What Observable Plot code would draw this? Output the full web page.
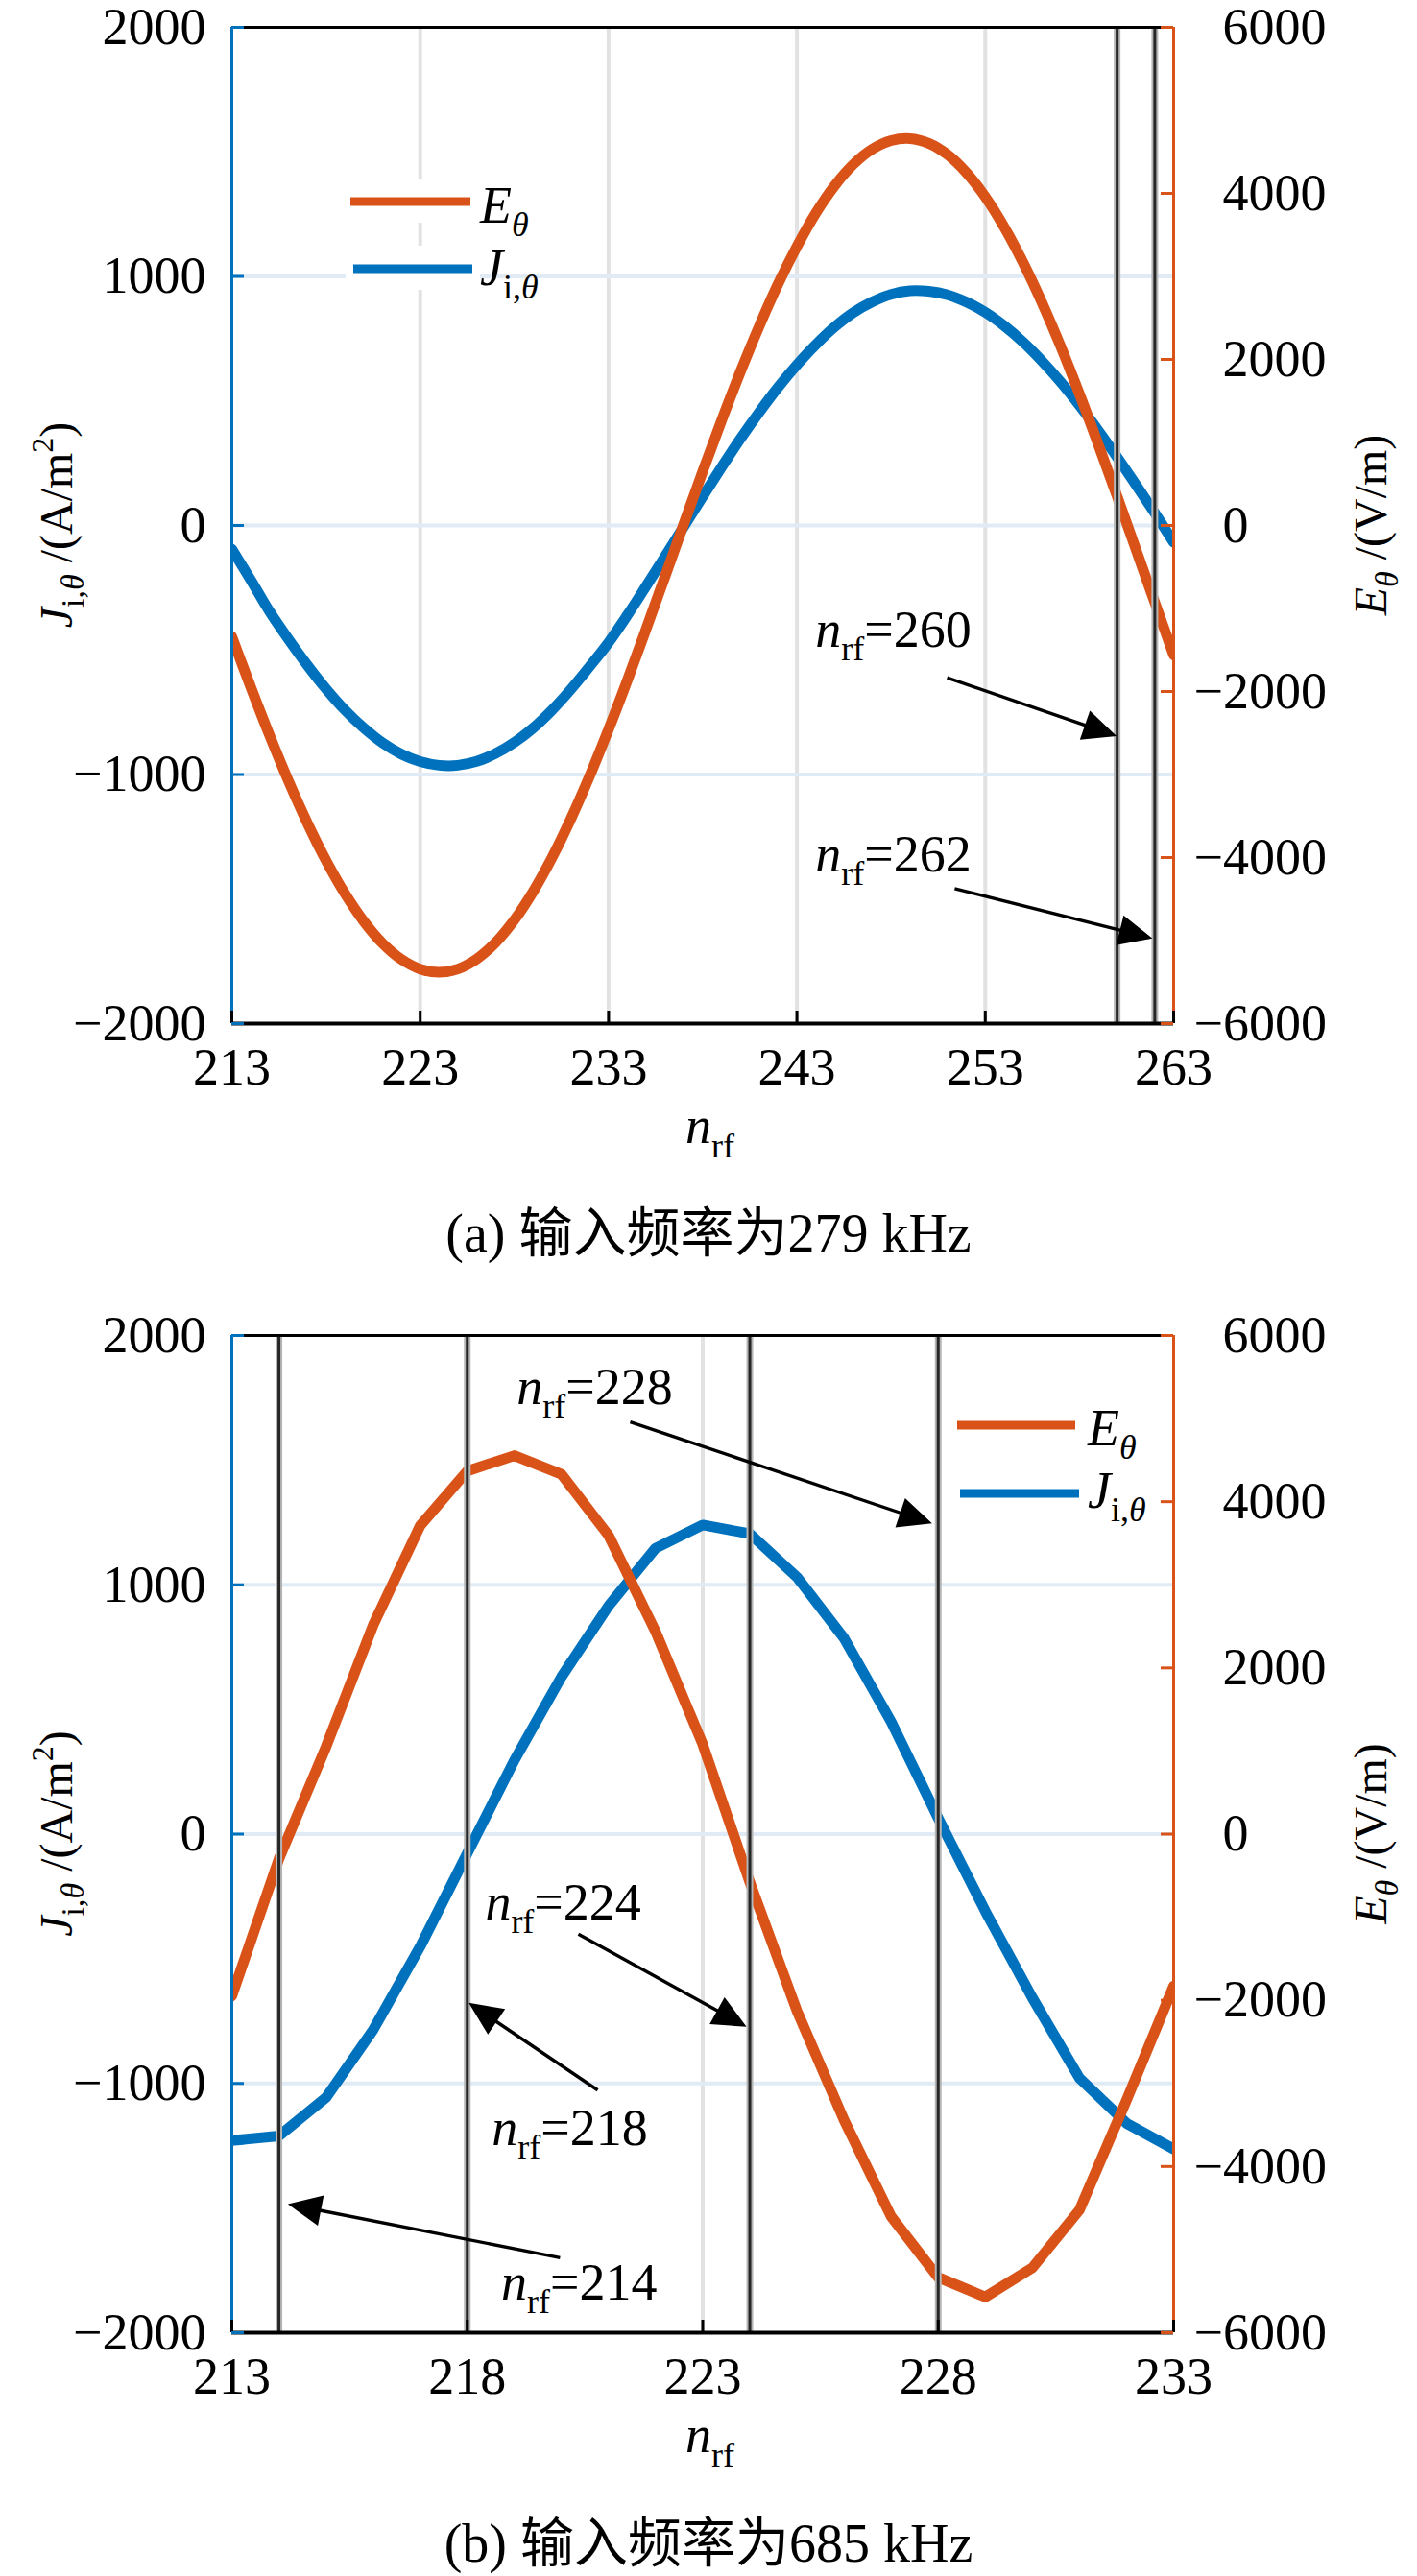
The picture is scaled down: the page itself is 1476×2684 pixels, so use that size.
<!DOCTYPE html>
<html>
<head>
<meta charset="utf-8">
<script src="https://cdn.jsdelivr.net/npm/d3@7"></script>
<script src="https://cdn.jsdelivr.net/npm/@observablehq/plot@0.6"></script>
<style>
  html, body { margin: 0; padding: 0; background: #fff; }
  body { width: 1476px; }
  svg { display: block; }
  .cap { width: 1476px; text-align: center; color: #000;
         font-family: "Liberation Serif", "Noto Sans CJK SC", serif; font-size: 56px; white-space: nowrap; }
</style>
</head>
<body>
<div id="chartA"></div>
<div class="cap" style="height:110px;line-height:110px;">(a) 输入频率为279 kHz</div>
<div id="chartB"></div>
<div class="cap" style="height:94px;line-height:120px;overflow:visible;">(b) 输入频率为685 kHz</div>
<script>
// ---------------- data: chart (a), 279 kHz ----------------
const nA = [213,214,215,216,217,218,219,220,221,222,223,224,225,226,227,228,229,230,231,232,233,234,235,236,237,238,
            239,240,241,242,243,244,245,246,247,248,249,250,251,252,253,254,255,256,257,258,259,260,261,262,263];
const jA = [-95,-218,-345,-456,-560,-656,-741,-813,-873,-918,-948,-963,-963,-947,-916,-871,-813,-741,-658,-566,-470,
            -360,-243,-124,-4,116,234,348,455,555,645,726,797,855,898,928,942,940,926,897,856,802,737,661,576,482,381,
            274,163,50,-68];
const eA = [-1339,-1945,-2526,-3074,-3579,-4035,-4433,-4767,-5033,-5226,-5343,-5382,-5342,-5222,-5024,-4751,-4408,
            -4000,-3533,-3016,-2457,-1864,-1245,-614,22,651,1265,1851,2401,2908,3361,3762,4092,4351,4533,4636,4660,
            4603,4466,4249,3958,3596,3170,2689,2159,1584,976,350,-289,-928,-1560];
const xTicksA = [213,223,233,243,253,263];
const markersA = [260,262];
const notesA = [{k:"260", x:244.0, y:-490}, {k:"262", x:244.0, y:-1390}];
const arrowsA = [{x1:251.0, y1:-613, x2:260.0, y2:-848}, {x1:251.4, y1:-1460, x2:261.9, y2:-1660}];

// ---------------- data: chart (b), 685 kHz ----------------
const nB = [213,214,215,216,217,218,219,220,221,222,223,224,225,226,227,228,229,230,231,232,233];
const jB = [-1229,-1211,-1057,-786,-451,-77,296,631,915,1147,1240,1205,1031,786,451,64,-309,-657,-979,-1160,-1263];
const eB = [-1950,-300,1050,2513,3711,4369,4555,4330,3595,2436,1080,-580,-2126,-3441,-4601,-5335,-5570,-5219,-4523,-3200,-1830];
const xTicksB = [213,218,223,228,233];
const markersB = [214,218,224,228];
const notesB = [{k:"228", x:219.06, y:1724}, {k:"224", x:218.39, y:-345},
                {k:"218", x:218.53, y:-1248}, {k:"214", x:218.73, y:-1870}];
const arrowsB = [{x1:221.47, y1:1651, x2:227.88, y2:1244}, {x1:220.37, y1:-403, x2:223.94, y2:-775},
                 {x1:220.78, y1:-1029, x2:218.04, y2:-679}, {x1:219.98, y1:-1701, x2:214.2, y2:-1486}];

// shared axis ticks
const jTicks = [-2000,-1000,0,1000,2000];
const eTicks = [-6000,-4000,-2000,0,2000,4000,6000];

// ---------------- styling ----------------
const FONT = "'Liberation Serif', 'Times New Roman', serif";
const BLUE = "#0072BD", ORANGE = "#D95319";
const fmt = d => d < 0 ? "\u2212" + Math.abs(d) : String(d);

function rich(g, x, y, segs, size, opts = {}) {
  const t = g.append("text")
    .attr("x", x).attr("y", y)
    .attr("font-family", FONT).attr("font-size", size)
    .attr("fill", "#000")
    .attr("text-anchor", opts.anchor || "start");
  if (opts.rotate) t.attr("transform", `rotate(-90 ${x} ${y})`);
  let shift = 0;
  for (const s of segs) {
    const target = s.sub ? s.sub : (s.sup ? -s.sup : 0);
    const ts = t.append("tspan").text(s.t);
    if (target !== shift) ts.attr("dy", target - shift);
    shift = target;
    if (s.italic) ts.attr("font-style", "italic");
    if (s.size) ts.attr("font-size", s.size);
  }
  return t;
}

const segE = [{t:"E", italic:true}, {t:"\u03B8", italic:true, sub:14, size:36}];
const segJ = [{t:"J", italic:true}, {t:"i,", sub:14, size:36}, {t:"\u03B8", italic:true, sub:14, size:36}];

function legendMark(L) {
  return () => {
    const g = d3.create("svg:g");
    for (const it of L.items) {
      if (L.box) g.append("rect").attr("x", it.x1 - 8).attr("y", it.y - 24)
        .attr("width", it.x2 - it.x1 + 16).attr("height", 46).attr("fill", "#fff");
    }
    for (const it of L.items) {
      g.append("line").attr("x1", it.x1).attr("x2", it.x2).attr("y1", it.y).attr("y2", it.y)
        .attr("stroke", it.color).attr("stroke-width", 9);
      rich(g, L.tx, it.ty, it.segs, 54);
    }
    return g.node();
  };
}

function notesMark(notes) {
  return (index, scales) => {
    const g = d3.create("svg:g");
    for (const nt of notes) {
      rich(g, scales.x(nt.x), scales.y(nt.y),
        [{t:"n", italic:true}, {t:"rf", sub:14, size:36}, {t:"=" + nt.k}], 54);
    }
    return g.node();
  };
}

function arrowsMark(arrows) {
  return (index, scales) => {
    const g = d3.create("svg:g");
    for (const a of arrows) {
      const x1 = scales.x(a.x1), y1 = scales.y(a.y1), x2 = scales.x(a.x2), y2 = scales.y(a.y2);
      const ang = Math.atan2(y2 - y1, x2 - x1);
      const L = 35, H = 16;
      const c = Math.cos(ang), s = Math.sin(ang);
      const bx = x2 - L * c, by = y2 - L * s;
      g.append("line").attr("x1", x1).attr("y1", y1).attr("x2", bx + 4 * c).attr("y2", by + 4 * s)
        .attr("stroke", "#000").attr("stroke-width", 3.4);
      g.append("path")
        .attr("d", `M${x2},${y2}L${bx - H * s},${by + H * c}L${bx + H * s},${by - H * c}Z`)
        .attr("fill", "#000");
    }
    return g.node();
  };
}

function axisTitles() {
  return (index, scales, values, dim) => {
    const g = d3.create("svg:g");
    const innerW = dim.width - dim.marginLeft - dim.marginRight;
    const innerH = dim.height - dim.marginTop - dim.marginBottom;
    const cy = dim.marginTop + innerH / 2;
    rich(g, dim.marginLeft + innerW / 2 + 8, dim.marginTop + innerH + 125,
      [{t:"n", italic:true}, {t:"rf", sub:15, size:36}], 54, {anchor:"middle"});
    rich(g, 75, cy,
      [{t:"J", italic:true}, {t:"i,", sub:12, size:34}, {t:"\u03B8", italic:true, sub:12, size:34},
       {t:" /(A/m"}, {t:"2", sup:20, size:32}, {t:")"}], 48, {anchor:"middle", rotate:true});
    rich(g, 1444, cy,
      [{t:"E", italic:true}, {t:"\u03B8", italic:true, sub:12, size:34}, {t:" /(V/m)"}],
      48, {anchor:"middle", rotate:true});
    return g.node();
  };
}

function chart(cfg) {
  const W = 1476, ML = 241, MR = 254;
  const innerW = W - ML - MR;
  const innerH = cfg.height - cfg.mt - cfg.mb;
  const rows = cfg.n.map((n, i) => ({n, J: cfg.J[i], E: cfg.E[i]}));
  const [x0, x1] = cfg.xDomain;
  return Plot.plot({
    width: W, height: cfg.height,
    marginLeft: ML, marginRight: MR, marginTop: cfg.mt, marginBottom: cfg.mb,
    x: {domain: cfg.xDomain},
    y: {domain: [-2000, 2000]},
    style: {fontFamily: FONT, fontSize: "54px", background: "#fff", color: "#000", overflow: "visible"},
    marks: [
      Plot.ruleX(cfg.xTicks.filter(v => v !== x0 && v !== x1), {stroke: "#e2e2e2", strokeWidth: 4}),
      Plot.ruleY([-1000, 0, 1000], {stroke: "#e0ebf6", strokeWidth: 4}),
      legendMark(cfg.legend),
      Plot.line(rows, {x: "n", y: "J", stroke: BLUE, strokeWidth: 11, curve: cfg.curve, clip: true}),
      Plot.line(rows, {x: "n", y: d => d.E / 3, stroke: ORANGE, strokeWidth: 11, curve: cfg.curve, clip: true}),
      Plot.ruleX(cfg.markers, {stroke: "#b5b5b5", strokeWidth: 7}),
      Plot.ruleX(cfg.markers, {stroke: "#262626", strokeWidth: 3}),
      Plot.ruleY([2000], {stroke: "#000", strokeWidth: 3}),
      Plot.ruleY([-2000], {stroke: "#000", strokeWidth: 4}),
      Plot.ruleX([x0], {stroke: BLUE, strokeWidth: 3}),
      Plot.ruleX([x1], {stroke: ORANGE, strokeWidth: 3}),
      Plot.ruleX(cfg.xTicks, {stroke: "#000", strokeWidth: 3, insetTop: innerH - 13}),
      Plot.ruleY(jTicks, {stroke: BLUE, strokeWidth: 3, insetRight: innerW - 13}),
      Plot.ruleY(eTicks.map(v => v / 3), {stroke: ORANGE, strokeWidth: 3, insetLeft: innerW - 13}),
      Plot.axisX({ticks: cfg.xTicks, tickSize: 0, tickPadding: 25, tickFormat: d => String(d), label: null}),
      Plot.axisY({anchor: "left", ticks: jTicks, tickSize: 0, tickPadding: 27, tickFormat: fmt, label: null}),
      Plot.text(eTicks.filter(v => v >= 0), {y: v => v / 3, text: fmt, frameAnchor: "right", textAnchor: "start", dx: 51, fill: "#000"}),
      Plot.text(eTicks.filter(v => v < 0), {y: v => v / 3, text: fmt, frameAnchor: "right", textAnchor: "start", dx: 21, fill: "#000"}),
      axisTitles(),
      notesMark(cfg.notes),
      arrowsMark(cfg.arrows)
    ]
  });
}

const legendA = {
  box: true, tx: 500,
  items: [
    {x1: 365, x2: 490, y: 210, ty: 232, color: ORANGE, segs: segE},
    {x1: 368, x2: 492, y: 280, ty: 297, color: BLUE, segs: segJ}
  ]
};
const legendB = {
  box: false, tx: 1133,
  items: [
    {x1: 997, x2: 1120, y: 145, ty: 166, color: ORANGE, segs: segE},
    {x1: 1000, x2: 1124, y: 216, ty: 231, color: BLUE, segs: segJ}
  ]
};

document.getElementById("chartA").append(chart({
  n: nA, J: jA, E: eA, xDomain: [213, 263], xTicks: xTicksA, markers: markersA,
  notes: notesA, arrows: arrowsA, legend: legendA, curve: "catmull-rom",
  height: 1230, mt: 28, mb: 164
}));
document.getElementById("chartB").append(chart({
  n: nB, J: jB, E: eB, xDomain: [213, 233], xTicks: xTicksB, markers: markersB,
  notes: notesB, arrows: arrowsB, legend: legendB, curve: "linear",
  height: 1250, mt: 51, mb: 160
}));
</script>
</body>
</html>
